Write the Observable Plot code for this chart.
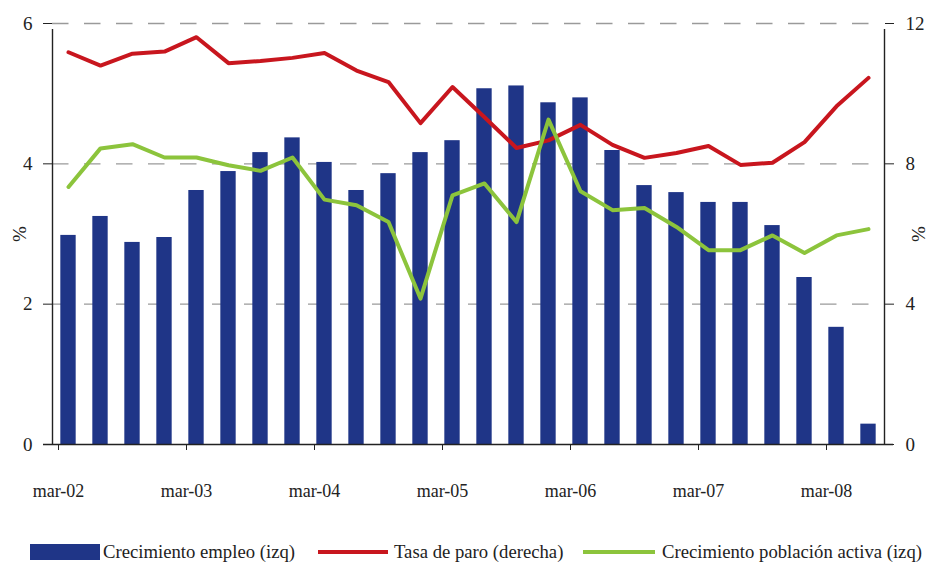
<!DOCTYPE html>
<html>
<head>
<meta charset="utf-8">
<script src="https://cdn.jsdelivr.net/npm/d3@7"></script>
<script src="https://cdn.jsdelivr.net/npm/@observablehq/plot@0.6"></script>
<style>
  body { margin: 0; background: #fff; font-family: "Liberation Serif", serif; }
  #wrap { position: relative; width: 927px; height: 562px; }
  #legend { position: absolute; left: 0; top: 538px; width: 927px; height: 24px; font-size: 18.7px; color: #222; }
  .sw { position: absolute; }
  .lt { position: absolute; top: 4px; white-space: nowrap; line-height: 20px; }
  svg text { font-family: "Liberation Serif", serif; }
</style>
</head>
<body>
<div id="wrap">
  <div id="chart"></div>
  <div id="legend"></div>
</div>
<script>
const quarters = ["mar-02","jun-02","sep-02","dic-02","mar-03","jun-03","sep-03","dic-03",
  "mar-04","jun-04","sep-04","dic-04","mar-05","jun-05","sep-05","dic-05",
  "mar-06","jun-06","sep-06","dic-06","mar-07","jun-07","sep-07","dic-07","mar-08","jun-08"];
const tickLabels = ["mar-02","mar-03","mar-04","mar-05","mar-06","mar-07","mar-08"];
const empleo = [2.98,3.25,2.88,2.95,3.62,3.89,4.16,4.37,4.02,3.62,3.86,4.16,4.33,5.07,5.11,4.87,4.94,4.19,3.69,3.59,3.45,3.45,3.12,2.38,1.67,0.29];
const paro = [11.18,10.80,11.14,11.20,11.61,10.87,10.93,11.02,11.16,10.66,10.33,9.16,10.19,9.33,8.45,8.67,9.11,8.54,8.17,8.31,8.51,7.97,8.03,8.62,9.64,10.45];
const activa = [3.67,4.22,4.28,4.09,4.09,3.98,3.90,4.09,3.49,3.41,3.17,2.08,3.55,3.72,3.17,4.63,3.61,3.34,3.37,3.10,2.77,2.77,2.98,2.73,2.98,3.07];
const leftTicks = [0,2,4,6];
const rightTicks = [0,4,8,12];
const seriesNames = ["Crecimiento empleo (izq)","Tasa de paro (derecha)","Crecimiento población activa (izq)"];
const colors = ["#1F3587","#C8161E","#8CC43C"];

const data = quarters.map((q,i) => ({q, i, empleo: empleo[i], paro: paro[i], activa: activa[i]}));
const n = quarters.length;

const chart = Plot.plot({
  width: 927,
  height: 538,
  marginLeft: 52,
  marginRight: 43,
  marginTop: 23,
  marginBottom: 94,
  style: {fontFamily: "Liberation Serif", fontSize: "18px", color: "#222", background: "#fff"},
  x: {type: "linear", domain: [0, n]},
  y: {domain: [0, 6]},
  marks: [
    Plot.ruleY(leftTicks.filter(d => d > 0), {stroke: "#9a9a9a", strokeWidth: 1.4, strokeDasharray: "16.5,15.5"}),
    Plot.rectY(data, {x1: d => d.i + 0.26, x2: d => d.i + 0.74, y1: 0, y2: "empleo", fill: colors[0]}),
    Plot.line(data, {x: d => d.i + 0.5, y: d => d.paro / 2, stroke: colors[1], strokeWidth: 4}),
    Plot.line(data, {x: d => d.i + 0.5, y: "activa", stroke: colors[2], strokeWidth: 4}),
    Plot.ruleY([0], {stroke: "#222", strokeWidth: 1.4, insetLeft: -9, insetRight: -9}),
    Plot.ruleX([0, n], {y1: 0, y2: 6, stroke: "#222", strokeWidth: 1.4, insetBottom: -6}),
    Plot.axisX({ticks: d3.range(0, n, 4), tickFormat: i => tickLabels[i / 4], tickSize: 6, tickPadding: 34, dx: 6, label: null, stroke: "#222", fontSize: 18}),
    Plot.axisY({anchor: "left", ticks: leftTicks, tickSize: 9, tickPadding: 11, tickFormat: d => String(d), label: "%", labelAnchor: "center", labelArrow: "none", labelOffset: 40, fontSize: 19}),
    Plot.axisY({anchor: "right", ticks: leftTicks, tickSize: 9, tickPadding: 12, tickFormat: d => String(rightTicks[leftTicks.indexOf(d)]), label: "%", labelAnchor: "center", labelArrow: "none", labelOffset: 40, fontSize: 19})
  ]
});
document.getElementById("chart").appendChild(chart);

const legend = document.getElementById("legend");
const items = [
  {sw: {left: 30, top: 6, width: 70, height: 16}, tx: 103},
  {sw: {left: 318, top: 12, width: 70, height: 4}, tx: 394},
  {sw: {left: 583, top: 12, width: 72, height: 4}, tx: 662}
];
items.forEach((it, k) => {
  const s = document.createElement("div");
  s.className = "sw";
  Object.assign(s.style, {left: it.sw.left + "px", top: it.sw.top + "px", width: it.sw.width + "px", height: it.sw.height + "px", background: colors[k]});
  legend.appendChild(s);
  const t = document.createElement("div");
  t.className = "lt";
  t.style.left = it.tx + "px";
  t.textContent = seriesNames[k];
  legend.appendChild(t);
});
</script>
</body>
</html>
